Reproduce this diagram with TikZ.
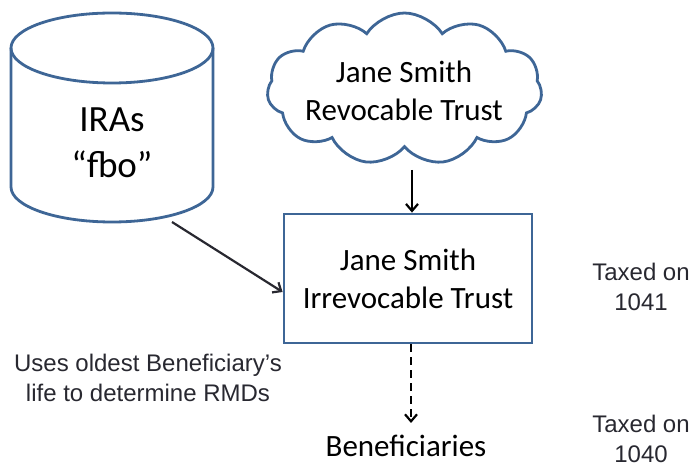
\documentclass[tikz,border=0pt]{standalone}
\usepackage{fontspec}
\setmainfont{Carlito}
\newfontfamily\arialfont{Liberation Sans}
\usetikzlibrary{shapes.symbols,arrows.meta,calc}
\definecolor{outlineblue}{RGB}{62,102,150}
\definecolor{notegray}{RGB}{40,40,48}
\begin{document}
\begin{tikzpicture}[x=1pt,y=1pt,
  shapeline/.style={draw=outlineblue,line width=2.8pt},
  bigtext/.style={font=\fontsize{31}{38}\selectfont,align=center,inner sep=0pt},
  iratext/.style={font=\fontsize{37}{46}\selectfont,align=center,inner sep=0pt},
  notetext/.style={font=\arialfont\fontsize{24}{30}\selectfont,text=notegray,align=center,inner sep=0pt},
  link/.style={line width=2.2pt,-{Straight Barb[length=7pt,width=12pt,line width=2.2pt]}},
]
\useasboundingbox (0,0) rectangle (693,463);

% IRA cylinder
\draw[shapeline,fill=white] (11,415) -- (11,276)
  arc[start angle=180,end angle=360,x radius=101pt,y radius=35pt]
  -- (213,415);
\draw[shapeline] (112,415) ellipse[x radius=101pt,y radius=35pt];
\node[iratext] (ira) at (112,320) {IRAs\\“fbo”};
\coordinate (irafoot) at (172,241);

% revocable trust cloud
\node[cloud,shapeline,cloud puffs=11,cloud puff arc=115,aspect=1.8,
      minimum width=275pt,minimum height=152pt,inner sep=0pt] (cloud) at (404.5,374) {};
\node[bigtext] (cloudtext) at (404,372) {Jane Smith\\Revocable Trust};
\coordinate (cloudfoot) at (412,293);

% irrevocable trust box
\node[shapeline,rectangle,minimum width=248pt,minimum height=129pt,inner sep=0pt] (trust) at (408,184.5) {};
\node[bigtext] (trusttext) at (408,184) {Jane Smith\\Irrevocable Trust};

% beneficiaries
\node[bigtext,anchor=base] (bene) at (406,6) {Beneficiaries};
\coordinate (benetop) at (411,40);

% side notes
\node[notetext] (tax1041) at (641,176) {Taxed on\\1041};
\node[notetext] (tax1040) at (641,24) {Taxed on\\1040};
\node[notetext] (rmd) at (148,85) {Uses oldest Beneficiary’s\\life to determine RMDs};

% connectors
\draw[link,draw=notegray] (irafoot) -- ([yshift=-13.5pt]trust.west);
\draw[link,draw=black] (cloudfoot) -- (cloudfoot |- trust.north);
\draw[link,draw=black,dash pattern=on 8pt off 5pt] (benetop |- trust.south) -- (benetop);
\end{tikzpicture}
\end{document}
